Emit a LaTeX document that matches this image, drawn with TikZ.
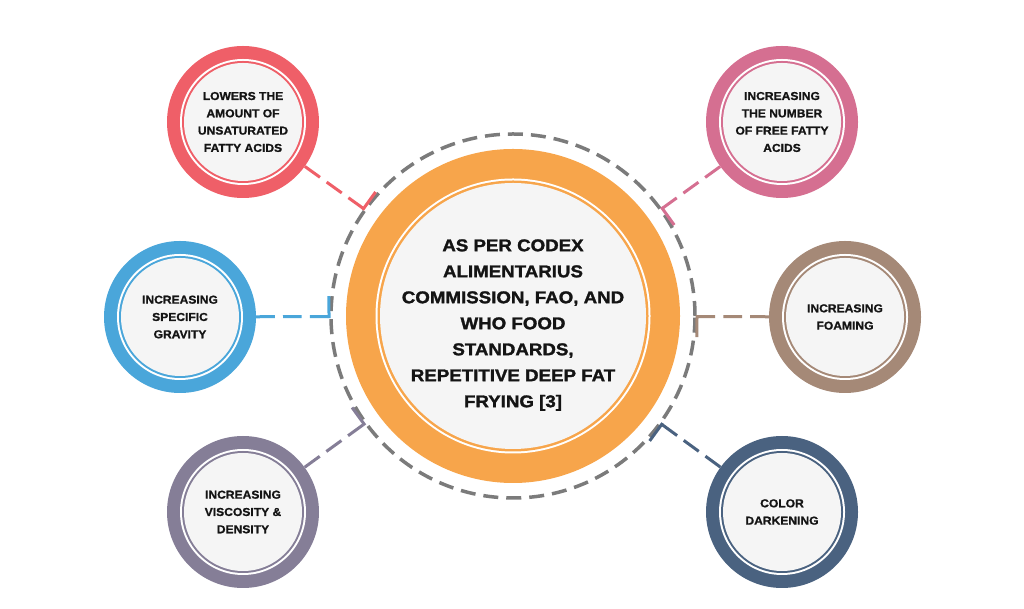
\documentclass[tikz,border=0pt]{standalone}
\usepackage{fontspec}
\setmainfont{Liberation Sans}
\newfontfamily\hubfont[FakeStretch=1.1,FakeBold=1.6]{Liberation Sans Bold}
\newfontfamily\satfont[FakeStretch=1.05,FakeBold=1]{Liberation Sans Bold}
\usetikzlibrary{calc}

\definecolor{hubOrange}{HTML}{F7A54B}
\definecolor{ringGray}{HTML}{7B7B7B}
\definecolor{paleFill}{HTML}{F5F5F5}
\definecolor{lowRed}{HTML}{EF5F68}
\definecolor{ffaPink}{HTML}{D56F91}
\definecolor{gravBlue}{HTML}{4AA6DA}
\definecolor{foamBrown}{HTML}{A58977}
\definecolor{viscViolet}{HTML}{857E97}
\definecolor{darkNavy}{HTML}{4A6280}

\tikzset{
  sat/.style={circle, minimum size=152pt, inner sep=0pt, fill=#1, align=center,
    text=black!92, font=\satfont\fontsize{11.5}{17.3}\selectfont,
    path picture={
      \fill[white] (path picture bounding box.center) circle (63pt);
      \fill[#1] (path picture bounding box.center) circle (61pt);
      \fill[paleFill] (path picture bounding box.center) circle (59pt);
    }},
  hubstyle/.style={circle, minimum size=334pt, inner sep=0pt, fill=hubOrange, align=center,
    text=black!92, font=\hubfont\fontsize{17}{26}\selectfont,
    path picture={
      \fill[white] (path picture bounding box.center) circle (137.5pt);
      \fill[hubOrange] (path picture bounding box.center) circle (135.5pt);
      \fill[paleFill] (path picture bounding box.center) circle (133pt);
    }},
  link/.style={draw=#1, line width=3pt, dash pattern=on 18.6pt off 8.2pt},
  tick/.style={draw=#1, line width=3pt, line cap=rect},
  ring/.style={draw=ringGray, line width=3.5pt, dash pattern=on 15pt off 8pt},
}

\begin{document}
\begin{tikzpicture}[x=1pt, y=1pt]
  \useasboundingbox (0,0) rectangle (1024,609);

  % Nodes
  \node[hubstyle] (hub) at (513,293) {\rule{0pt}{30pt}AS PER CODEX\\ALIMENTARIUS\\COMMISSION, FAO, AND\\WHO FOOD\\STANDARDS,\\REPETITIVE DEEP FAT\\FRYING [3]};
  \node[sat=lowRed] (low) at (243,487) {LOWERS THE\\AMOUNT OF\\UNSATURATED\\FATTY ACIDS};
  \node[sat=ffaPink] (ffa) at (782,487) {INCREASING\\THE NUMBER\\OF FREE FATTY\\ACIDS};
  \node[sat=gravBlue] (grav) at (180,292) {INCREASING\\SPECIFIC\\GRAVITY};
  \node[sat=foamBrown] (foam) at (845,292) {INCREASING\\FOAMING};
  \node[sat=viscViolet] (visc) at (243,97) {INCREASING\\VISCOSITY \&\\DENSITY};
  \node[sat=darkNavy] (dark) at (782,97) {COLOR\\DARKENING};

  % Dashed ring
  \draw[ring] (hub.center) circle (182pt);

  % Corners
  \coordinate (kLow) at ($(hub.center)!184pt!(low.center)$);
  \coordinate (tLow) at ($(kLow)!19pt!90:(hub.center)$);
  \coordinate (kFfa) at ($(hub.center)!184pt!(ffa.center)$);
  \coordinate (tFfa) at ($(kFfa)!19pt!90:(hub.center)$);
  \coordinate (kGrav) at ($(hub.center)!184pt!(grav.center)$);
  \coordinate (tGrav) at ($(kGrav)!19pt!90:(hub.center)$);
  \coordinate (kFoam) at ($(hub.center)!184pt!(foam.center)$);
  \coordinate (tFoam) at ($(kFoam)!19pt!90:(hub.center)$);
  \coordinate (kVisc) at ($(hub.center)!184pt!(visc.center)$);
  \coordinate (tVisc) at ($(kVisc)!19pt!90:(hub.center)$);
  \coordinate (kDark) at ($(hub.center)!184pt!(dark.center)$);
  \coordinate (tDark) at ($(kDark)!19pt!90:(hub.center)$);

  % Links
  \draw[link=lowRed] (low) -- (kLow);
  \draw[tick=lowRed] (kLow) -- (tLow);
  \draw[link=ffaPink] (ffa) -- (kFfa);
  \draw[tick=ffaPink] (kFfa) -- (tFfa);
  \draw[link=gravBlue] (grav) -- (kGrav);
  \draw[tick=gravBlue] (kGrav) -- (tGrav);
  \draw[link=foamBrown] (foam) -- (kFoam);
  \draw[tick=foamBrown] (kFoam) -- (tFoam);
  \draw[link=viscViolet] (visc) -- (kVisc);
  \draw[tick=viscViolet] (kVisc) -- (tVisc);
  \draw[link=darkNavy] (dark) -- (kDark);
  \draw[tick=darkNavy] (kDark) -- (tDark);
\end{tikzpicture}
\end{document}
